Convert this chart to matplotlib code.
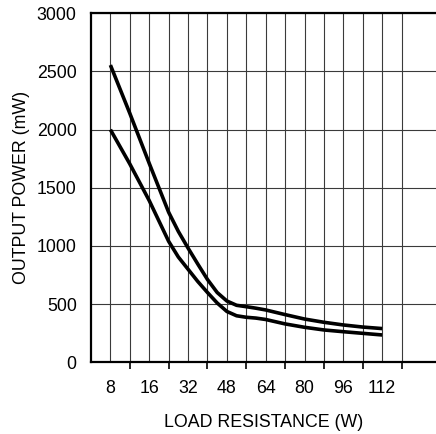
import numpy as np
import matplotlib.pyplot as plt

plt.rcParams['font.family'] = ['Liberation Sans', 'DejaVu Sans']

# load resistance (ohm) and output power (mW) for the two curves
load_ohm = [8, 12, 16, 24, 28, 32, 36, 40, 44, 48, 52, 56, 60, 64, 72, 80, 88, 96, 104, 112]
power_upper = [2555, 2140, 1710, 1290, 1125, 982, 845, 712, 600, 527, 490, 478, 465, 450,
               410, 372, 344, 321, 303, 290]
power_lower = [2000, 1705, 1390, 1040, 905, 800, 695, 600, 510, 437, 400, 387, 380, 368,
               330, 301, 278, 263, 249, 235]

tick_ohm = [8, 16, 32, 48, 64, 80, 96, 112]
y_ticks = [0, 500, 1000, 1500, 2000, 2500, 3000]

# the x axis is not linear in ohms: labels sit on every other grid line
tick_pos = np.arange(1, 2 * len(tick_ohm), 2)


def to_pos(r):
    return np.interp(r, tick_ohm, tick_pos)


fig = plt.figure(figsize=(4.36, 4.34), dpi=100)
ax = fig.add_axes([91 / 436, 1 - 362.3 / 434, 1 - 91 / 436, (362.3 - 13.3) / 434])

x = to_pos(load_ohm)
for p in (power_upper, power_lower):
    ax.plot(x, p, color='black', lw=2.6, solid_joinstyle='round',
            solid_capstyle='butt', zorder=3)

ax.set_xlim(0, (436 - 91) / 19.41)
ax.set_ylim(0, 3000)

ax.set_xticks(tick_pos)
ax.set_xticklabels([str(t) for t in tick_ohm])
ax.set_xticks(np.arange(2, 18, 2), minor=True)
ax.set_yticks(y_ticks)

fs = 12.8
ax.tick_params(axis='x', which='major', length=0, pad=12.5, labelsize=fs)
ax.tick_params(axis='x', which='minor', length=5, width=1.2, direction='out', color='black')
ax.tick_params(axis='y', length=0, pad=10.3, labelsize=fs)

ax.grid(True, which='both', color='#3a3a3a', lw=0.8)
ax.set_axisbelow(True)

for s in ('left', 'bottom', 'top'):
    ax.spines[s].set_linewidth(1.6)
ax.spines['right'].set_visible(False)

ax.set_xlabel('LOAD RESISTANCE (W)', fontsize=fs, labelpad=12.5)
ax.set_ylabel('OUTPUT POWER (mW)', fontsize=fs, labelpad=5)

fig.savefig('out.png', dpi=100)
